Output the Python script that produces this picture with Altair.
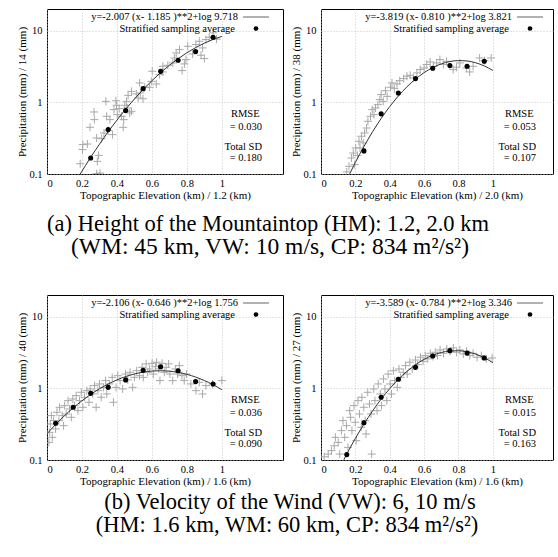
import altair as alt
import pandas as pd

FONT = "Liberation Serif"

# ---------------- data ----------------
# Panel (a-1): HM 1.2 km
p1_x = [0.19, 0.205, 0.203, 0.231, 0.246, 0.269, 0.271, 0.284, 0.295, 0.284, 0.303, 0.288, 0.313, 0.326,
        0.337, 0.341, 0.350, 0.360, 0.375, 0.383, 0.394, 0.398, 0.402, 0.413, 0.426, 0.436, 0.439, 0.445,
        0.458, 0.473, 0.455, 0.483, 0.464, 0.483, 0.511, 0.521, 0.534, 0.549, 0.530, 0.559, 0.587, 0.597,
        0.602, 0.625, 0.644, 0.663, 0.691, 0.663, 0.720, 0.729, 0.739, 0.758, 0.773, 0.795, 0.786, 0.805,
        0.833, 0.852, 0.871, 0.890, 0.909, 0.881, 0.900, 0.928, 0.95, 0.97]
p1_y = [0.139, 0.257, 0.219, 0.262, 0.448, 0.733, 0.573, 0.318, 0.182, 0.101, 0.103, 0.150, 0.311, 0.373,
        1.03, 0.638, 0.403, 0.573, 0.354, 0.790, 1.05, 0.908, 0.673, 0.816, 0.638, 0.448, 0.573, 0.908,
        0.834, 0.710, 1.03, 0.749, 1.25, 1.42, 1.31, 1.15, 1.35, 1.12, 1.86, 1.62, 1.62, 1.96,
        2.71, 1.80, 2.43, 2.65, 3.28, 3.18, 3.54, 4.15, 4.88, 5.43, 2.77, 3.94, 3.43, 6.04,
        4.72, 6.38, 7.10, 5.73, 7.49, 4.53, 4.07, 8.07, 9.3, 7.6]
p1_avg_x = [0.25, 0.35, 0.45, 0.55, 0.65, 0.75, 0.85, 0.95]
p1_avg_y = [0.167, 0.416, 0.77, 1.55, 2.7, 3.85, 5.1, 8.07]
p1_fit_x = [0.19, 0.25, 0.30, 0.35, 0.40, 0.45, 0.50, 0.55, 0.60, 0.65, 0.70, 0.75, 0.80, 0.85, 0.90, 0.95, 1.00]
p1_fit_y = [0.100, 0.171, 0.260, 0.388, 0.563, 0.801, 1.111, 1.508, 1.999, 2.589, 3.277, 4.054, 4.899,
            5.785, 6.676, 7.529, 8.296]

# Panel (a-2): HM 2.0 km
p2_x = [0.150, 0.163, 0.177, 0.188, 0.196, 0.202, 0.212, 0.221, 0.227, 0.235, 0.246, 0.254, 0.265, 0.273,
        0.288, 0.298, 0.308, 0.317, 0.331, 0.342, 0.350, 0.362, 0.375, 0.385, 0.404, 0.413, 0.427, 0.442,
        0.458, 0.481, 0.500, 0.519, 0.538, 0.558, 0.577, 0.600, 0.615, 0.635, 0.654, 0.673, 0.692, 0.712,
        0.731, 0.769, 0.788, 0.808, 0.846, 0.865, 0.885, 0.923, 0.952, 0.990]
p2_y = [0.107, 0.128, 0.167, 0.196, 0.135, 0.231, 0.182, 0.286, 0.231, 0.336, 0.271, 0.373, 0.438, 0.543,
        0.638, 0.790, 0.673, 0.834, 0.927, 1.09, 1.28, 1.03, 1.45, 1.21, 1.62, 1.86, 1.55, 1.80,
        2.00, 2.14, 2.31, 2.38, 2.19, 2.57, 2.86, 3.01, 3.36, 3.66, 3.15, 3.54, 3.94, 3.36,
        3.73, 2.86, 3.08, 3.54, 3.01, 2.65, 3.18, 4.15, 3.81, 4.15]
p2_avg_x = [0.25, 0.35, 0.45, 0.55, 0.65, 0.75, 0.85, 0.95]
p2_avg_y = [0.21, 0.69, 1.35, 2.14, 2.98, 3.25, 3.18, 3.73]
p2_fit_x = [0.167, 0.20, 0.25, 0.30, 0.35, 0.40, 0.45, 0.50, 0.55, 0.60, 0.65, 0.70, 0.75, 0.80, 0.85, 0.90,
            0.95, 1.00]
p2_fit_y = [0.1007, 0.145, 0.242, 0.388, 0.594, 0.872, 1.223, 1.641, 2.109, 2.593, 3.051, 3.436, 3.701,
            3.818, 3.768, 3.558, 3.217, 2.781]

# Panel (b-1): VW 6 m/s
p3_x = [0.011, 0.015, 0.019, 0.025, 0.030, 0.038, 0.049, 0.057, 0.068, 0.072, 0.087, 0.095, 0.101, 0.110,
        0.120, 0.129, 0.139, 0.148, 0.158, 0.167, 0.177, 0.186, 0.196, 0.205, 0.215, 0.228, 0.240, 0.247,
        0.262, 0.272, 0.281, 0.291, 0.300, 0.310, 0.323, 0.335, 0.342, 0.357, 0.373, 0.380, 0.395, 0.405,
        0.418, 0.433, 0.449, 0.462, 0.475, 0.490, 0.500, 0.513, 0.529, 0.544, 0.551, 0.567, 0.576, 0.586,
        0.601, 0.608, 0.620, 0.627, 0.639, 0.646, 0.658, 0.671, 0.681, 0.696, 0.703, 0.719, 0.734, 0.747,
        0.757, 0.772, 0.785, 0.798, 0.823, 0.852, 0.871, 0.890, 0.909, 0.947, 1.000]
p3_y = [0.176, 0.243, 0.318, 0.416, 0.207, 0.354, 0.271, 0.463, 0.354, 0.543, 0.416, 0.301, 0.573, 0.438,
        0.673, 0.515, 0.394, 0.710, 0.573, 0.790, 0.488, 0.673, 0.880, 0.543, 0.749, 0.927, 0.638, 0.979,
        0.834, 1.09, 0.543, 0.927, 1.15, 0.749, 1.03, 1.28, 0.834, 1.15, 1.42, 0.638, 1.03, 1.50,
        1.28, 0.979, 1.58, 1.31, 1.67, 1.03, 1.42, 1.76, 1.50, 1.96, 1.42, 2.19, 1.67, 1.86,
        2.23, 1.58, 2.00, 2.31, 1.86, 1.28, 2.23, 1.67, 1.96, 2.19, 1.58, 1.28, 1.86, 1.58,
        2.07, 1.50, 1.28, 1.58, 1.15, 0.927, 1.21, 0.834, 1.09, 1.15, 1.28]
p3_avg_x = [0.05, 0.15, 0.25, 0.35, 0.45, 0.55, 0.65, 0.75, 0.85, 0.95]
p3_avg_y = [0.325, 0.543, 0.85, 1.03, 1.31, 1.78, 2.0, 1.76, 1.24, 1.15]
p3_fit_x = [0.00, 0.05, 0.10, 0.15, 0.20, 0.25, 0.30, 0.35, 0.40, 0.45, 0.50, 0.55, 0.60, 0.65, 0.70, 0.75,
            0.80, 0.85, 0.90, 0.95, 1.00]
p3_fit_y = [0.232, 0.314, 0.414, 0.533, 0.669, 0.821, 0.983, 1.148, 1.309, 1.458, 1.584, 1.680, 1.739,
            1.756, 1.731, 1.667, 1.565, 1.435, 1.284, 1.122, 0.956]

# Panel (b-2): VW 10 m/s
p4_x = [0.019, 0.042, 0.061, 0.077, 0.084, 0.100, 0.109, 0.119, 0.128, 0.138, 0.148, 0.157, 0.167, 0.172,
        0.180, 0.192, 0.199, 0.205, 0.215, 0.224, 0.234, 0.238, 0.249, 0.257, 0.262, 0.272, 0.282, 0.291,
        0.295, 0.307, 0.314, 0.326, 0.333, 0.345, 0.352, 0.364, 0.372, 0.383, 0.391, 0.402, 0.410, 0.421,
        0.429, 0.444, 0.454, 0.464, 0.479, 0.492, 0.502, 0.517, 0.531, 0.550, 0.563, 0.579, 0.594, 0.607,
        0.621, 0.636, 0.651, 0.665, 0.678, 0.693, 0.713, 0.732, 0.751, 0.770, 0.789, 0.808, 0.828, 0.847,
        0.866, 0.885, 0.908, 0.933, 0.962, 0.996]
p4_y = [0.111, 0.121, 0.135, 0.158, 0.207, 0.176, 0.121, 0.257, 0.354, 0.207, 0.301, 0.150, 0.488, 0.394,
        0.257, 0.573, 0.336, 0.186, 0.673, 0.438, 0.286, 0.749, 0.543, 0.354, 0.231, 0.880, 0.604, 0.438,
        0.121, 0.979, 0.673, 0.488, 1.15, 0.834, 0.573, 1.35, 0.979, 0.673, 1.58, 1.15, 0.834, 1.76,
        1.28, 1.03, 1.86, 1.42, 1.67, 2.07, 1.58, 2.31, 1.86, 2.48, 2.14, 2.71, 2.38, 2.86,
        2.57, 3.08, 2.77, 3.18, 2.86, 3.43, 3.08, 3.54, 3.28, 3.66, 3.18, 3.43, 3.01, 3.28,
        2.86, 3.08, 2.71, 2.86, 2.57, 2.65]
p4_avg_x = [0.15, 0.25, 0.35, 0.45, 0.55, 0.65, 0.75, 0.85, 0.95]
p4_avg_y = [0.119, 0.33, 0.75, 1.34, 1.96, 2.82, 3.35, 3.1, 2.65]
p4_fit_x = [0.133, 0.15, 0.20, 0.25, 0.30, 0.35, 0.40, 0.45, 0.50, 0.55, 0.60, 0.65, 0.70, 0.75, 0.80, 0.85,
            0.90, 0.95, 1.00]
p4_fit_y = [0.1008, 0.121, 0.200, 0.317, 0.483, 0.706, 0.989, 1.331, 1.718, 2.129, 2.529, 2.885, 3.156,
            3.314, 3.339, 3.228, 2.994, 2.666, 2.275]

equations = ["y=-2.007 (x- 1.185 )**2+log 9.718",
             "y=-3.819 (x- 0.810 )**2+log 3.821",
             "y=-2.106 (x- 0.646 )**2+log 1.756",
             "y=-3.589 (x- 0.784 )**2+log 3.346"]
y_titles = ["Precipitation (mm) / 14 (mm)", "Precipitation (mm) / 38 (mm)",
            "Precipitation (mm) / 40 (mm)", "Precipitation (mm) / 27 (mm)"]
x_titles = ["Topographic Elevation (km) /  1.2 (km)", "Topographic Elevation (km) /  2.0 (km)",
            "Topographic Elevation (km) /  1.6 (km)", "Topographic Elevation (km) /  1.6 (km)"]
rmse_vals = ["= 0.030", "= 0.053", "= 0.036", "= 0.015"]
sd_vals = ["= 0.180", "= 0.107", "= 0.090", "= 0.163"]
x_ticks = [0, 0.2, 0.4, 0.6, 0.8, 1.0]
y_ticks = [0.1, 1, 10]
caption_a = ["(a) Height of the Mountaintop (HM): 1.2, 2.0 km",
             "(WM: 45 km, VW: 10 m/s, CP: 834 m\u00b2/s\u00b2)"]
caption_b = ["(b) Velocity of the Wind (VW): 6, 10 m/s",
             "(HM: 1.6 km, WM: 60 km, CP: 834 m\u00b2/s\u00b2)"]

CROSS = "M-1,0H1M0,-1V1"


def one(text, x, y, align="right", size=10.5, baseline="middle"):
    return alt.Chart(alt.InlineData(values=[{"t": text}])).mark_text(
        align=align, baseline=baseline, font=FONT, fontSize=size, color="black"
    ).encode(x=alt.value(x), y=alt.value(y), text="t:N")


def panel(i, sx, sy, ax, ay, fx, fy, width, height):
    xs = alt.Scale(domain=[0, 1.35], nice=False, zero=False)
    ys = alt.Scale(type="log", domain=[0.1, 20], nice=False)
    xaxis = alt.Axis(title=x_titles[i], values=x_ticks, format="~g", grid=True, ticks=False,
                     domain=False, labelPadding=4, titlePadding=1,
                     labelFont=FONT, titleFont=FONT, labelFontSize=10.5, titleFontSize=11,
                     titleFontWeight="normal", labelColor="black", titleColor="black")
    yaxis = alt.Axis(title=y_titles[i], values=y_ticks, format="~g", grid=True, ticks=False,
                     domain=False, labelPadding=5, titlePadding=1,
                     labelFont=FONT, titleFont=FONT, labelFontSize=10.5, titleFontSize=11,
                     titleFontWeight="normal", labelColor="black", titleColor="black")
    X = alt.X("x:Q", scale=xs, axis=xaxis)
    Y = alt.Y("y:Q", scale=ys, axis=yaxis)
    scatter = alt.Chart(pd.DataFrame({"x": sx, "y": sy})).mark_point(
        shape=CROSS, size=64, color="#a8a8a8", strokeWidth=1, filled=False, opacity=1, clip=True
    ).encode(x=X, y=Y)
    fit = alt.Chart(pd.DataFrame({"x": fx, "y": fy})).mark_line(
        color="#333333", strokeWidth=1, interpolate="monotone", clip=True
    ).encode(x=X, y=Y)
    avg = alt.Chart(pd.DataFrame({"x": ax, "y": ay})).mark_point(
        shape="circle", size=26, filled=True, color="black", opacity=1, clip=True
    ).encode(x=X, y=Y)
    leg_line = alt.Chart(alt.InlineData(values=[{"k": 0}])).mark_rule(
        color="#666666", strokeWidth=1
    ).encode(x=alt.value(196), x2=alt.value(222), y=alt.value(8))
    leg_dot = alt.Chart(alt.InlineData(values=[{"k": 0}])).mark_point(
        shape="circle", size=22, filled=True, color="black", opacity=1
    ).encode(x=alt.value(209), y=alt.value(19.5))
    return alt.layer(
        scatter, fit, avg,
        one(equations[i], 191, 8),
        one("Stratified sampling average", 188, 19.5),
        leg_line, leg_dot,
        one("RMSE", 184, 105, align="left"),
        one(rmse_vals[i], 215, 118),
        one("Total SD", 215, 138),
        one(sd_vals[i], 215, 149),
    ).properties(width=width, height=height)


def caption(lines, cx1, cx2, y1, y2, s1, s2, w, h):
    return alt.layer(
        one(lines[0], cx1, y1, align="center", size=s1, baseline="alphabetic"),
        one(lines[1], cx2, y2, align="center", size=s2, baseline="alphabetic"),
    ).properties(width=w, height=h, view=alt.ViewBackground(strokeOpacity=0, fillOpacity=0))


PW1, PW2, PH = 236, 232, 165
row1 = alt.hconcat(
    panel(0, p1_x, p1_y, p1_avg_x, p1_avg_y, p1_fit_x, p1_fit_y, PW1, PH),
    panel(1, p2_x, p2_y, p2_avg_x, p2_avg_y, p2_fit_x, p2_fit_y, PW2, PH),
    spacing=6,
)
row2 = alt.hconcat(
    panel(2, p3_x, p3_y, p3_avg_x, p3_avg_y, p3_fit_x, p3_fit_y, PW1, PH),
    panel(3, p4_x, p4_y, p4_avg_x, p4_avg_y, p4_fit_x, p4_fit_y, PW2, PH),
    spacing=6,
)
LEFT = 16
VIEW_LEFT = 47  # caption charts are aligned on the plot-area origin
chart = alt.vconcat(
    row1,
    caption(caption_a, 268 - VIEW_LEFT, 270 - VIEW_LEFT, 30, 52.5, 22.5, 23.5, 480, 93),
    row2,
    caption(caption_b, 290 - VIEW_LEFT, 287 - VIEW_LEFT, 22, 44.5, 22.5, 22.5, 480, 60),
    spacing=0,
).properties(
    padding={"left": LEFT, "top": 8, "right": 0, "bottom": 0},
    background="white",
).configure_view(
    stroke="black", strokeWidth=1
).configure_axis(
    gridColor="#bbbbbb", gridDash=[1, 2], gridWidth=0.8,
)

chart.save("out.html", embed_options={"renderer": "svg", "actions": False})
